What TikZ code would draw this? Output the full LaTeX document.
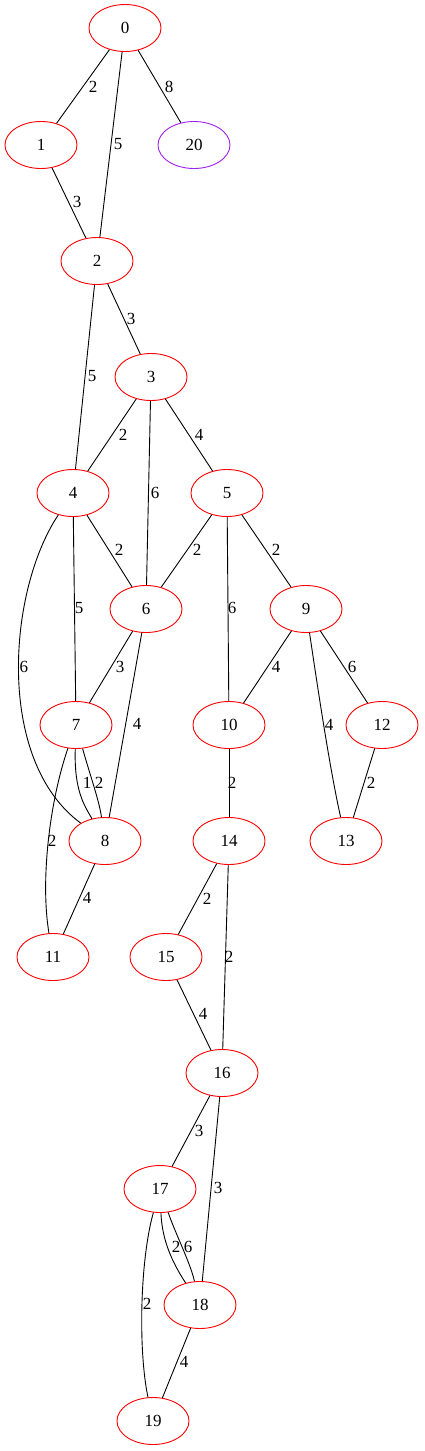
\documentclass[tikz,border=0pt]{standalone}
\usepackage{fontspec}
\setmainfont{Liberation Serif}
\usetikzlibrary{shapes.geometric}
\definecolor{gvred}{HTML}{FF0000}
\definecolor{gvpurple}{HTML}{A020F0}
\tikzset{
  nd/.style={ellipse, draw=gvred, line width=0.9pt, minimum width=72pt, minimum height=47pt, inner sep=0pt, font=\fontsize{17}{19}\selectfont},
  ndp/.style={nd, draw=gvpurple},
  lbl/.style={inner sep=0pt, font=\fontsize{17}{19}\selectfont},
  ed/.style={draw=black, line width=0.9pt}
}
\begin{document}
\begin{tikzpicture}[x=1pt,y=-1pt]
\useasboundingbox (0,0) rectangle (424,1451);
% nodes
\node[nd] (n0) at (125,28) {0};
\node[nd] (n1) at (41,145) {1};
\node[ndp] (n20) at (194,145) {20};
\node[nd] (n2) at (97,261) {2};
\node[nd] (n3) at (151,377) {3};
\node[nd] (n4) at (73,493) {4};
\node[nd] (n5) at (227,493) {5};
\node[nd] (n6) at (146,609) {6};
\node[nd] (n9) at (306,609) {9};
\node[nd] (n7) at (76,725) {7};
\node[nd] (n10) at (229,725) {10};
\node[nd] (n12) at (382,725) {12};
\node[nd] (n8) at (105,841) {8};
\node[nd] (n14) at (229,841) {14};
\node[nd] (n13) at (346,841) {13};
\node[nd] (n11) at (53,957) {11};
\node[nd] (n15) at (166,957) {15};
\node[nd] (n16) at (222,1073) {16};
\node[nd] (n17) at (160,1189) {17};
\node[nd] (n18) at (200,1305) {18};
\node[nd] (n19) at (153,1421) {19};
% edges
\draw[ed] (n0) -- (n1);
\draw[ed] (n0) -- (n2);
\draw[ed] (n0) -- (n20);
\draw[ed] (n1) -- (n2);
\draw[ed] (n2) -- (n3);
\draw[ed] (n2) -- (n4);
\draw[ed] (n3) -- (n4);
\draw[ed] (n3) -- (n6);
\draw[ed] (n3) -- (n5);
\draw[ed] (n4) -- (n6);
\draw[ed] (n4) -- (n7);
\draw[ed] (n4) .. controls (8,590) and (-5,760) .. (n8);
\draw[ed] (n5) -- (n6);
\draw[ed] (n5) -- (n10);
\draw[ed] (n5) -- (n9);
\draw[ed] (n6) -- (n7);
\draw[ed] (n6) -- (n8);
\draw[ed] (n9) -- (n10);
\draw[ed] (n9) -- (n12);
\draw[ed] (n9) .. controls (318,690) and (330,770) .. (n13);
\draw[ed] (n7) .. controls (74,790) and (84,805) .. (n8);
\draw[ed] (n7) .. controls (90,775) and (99,800) .. (n8);
\draw[ed] (n7) .. controls (50,800) and (40,880) .. (n11);
\draw[ed] (n8) -- (n11);
\draw[ed] (n10) -- (n14);
\draw[ed] (n12) -- (n13);
\draw[ed] (n14) -- (n15);
\draw[ed] (n14) -- (n16);
\draw[ed] (n15) -- (n16);
\draw[ed] (n16) -- (n17);
\draw[ed] (n16) -- (n18);
\draw[ed] (n17) .. controls (162,1240) and (172,1262) .. (n18);
\draw[ed] (n17) .. controls (176,1235) and (190,1262) .. (n18);
\draw[ed] (n17) .. controls (140,1260) and (138,1350) .. (n19);
\draw[ed] (n18) -- (n19);
% labels
\node[lbl] (l0a) at (93,87) {2};
\node[lbl] (l0b) at (118,144) {5};
\node[lbl] (l0c) at (169,87) {8};
\node[lbl] (l1a) at (77,202) {3};
\node[lbl] (l2a) at (131,319) {3};
\node[lbl] (l2b) at (92,376) {5};
\node[lbl] (l3a) at (123,435) {2};
\node[lbl] (l3b) at (199,435) {4};
\node[lbl] (l3c) at (155,493) {6};
\node[lbl] (l4a) at (119,550) {2};
\node[lbl] (l5a) at (197,550) {2};
\node[lbl] (l4b) at (79,608) {5};
\node[lbl] (l5b) at (232,608) {6};
\node[lbl] (l5c) at (276,550) {2};
\node[lbl] (l6a) at (120,667) {3};
\node[lbl] (l9a) at (276,667) {4};
\node[lbl] (l9b) at (352,667) {6};
\node[lbl] (l4c) at (24,667) {6};
\node[lbl] (l6b) at (137,724) {4};
\node[lbl] (l9c) at (329,725) {4};
\node[lbl] (l10a) at (232,783) {2};
\node[lbl] (l12a) at (371,783) {2};
\node[lbl] (l7a) at (87,783) {1};
\node[lbl] (l7b) at (99,783) {2};
\node[lbl] (l7c) at (52,841) {2};
\node[lbl] (l8a) at (87,898) {4};
\node[lbl] (l14a) at (207,899) {2};
\node[lbl] (l14b) at (229,957) {2};
\node[lbl] (l15a) at (203,1014) {4};
\node[lbl] (l16a) at (199,1131) {3};
\node[lbl] (l16b) at (218,1188) {3};
\node[lbl] (l17a) at (176,1247) {2};
\node[lbl] (l17b) at (188,1247) {6};
\node[lbl] (l17c) at (147,1304) {2};
\node[lbl] (l18a) at (184,1362) {4};
\end{tikzpicture}
\end{document}
